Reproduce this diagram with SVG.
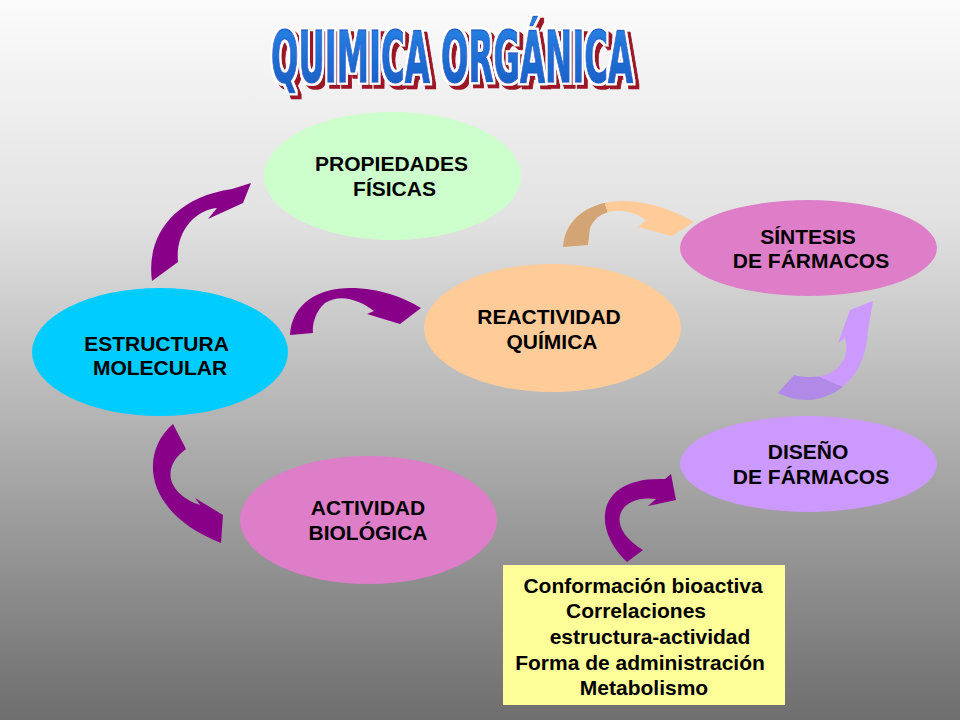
<svg xmlns="http://www.w3.org/2000/svg" width="960" height="720" viewBox="0 0 960 720">
<defs>
<linearGradient id="bg" x1="0" y1="0" x2="0" y2="1">
<stop offset="0" stop-color="#fbfbfb"/>
<stop offset="0.3" stop-color="#e2e2e2"/>
<stop offset="1" stop-color="#6e6e6e"/>
</linearGradient>
<linearGradient id="tan" gradientUnits="userSpaceOnUse" x1="600" y1="215" x2="615" y2="210">
<stop offset="0.5" stop-color="#d4a574"/>
<stop offset="0.5" stop-color="#ffcc99"/>
</linearGradient>
<linearGradient id="lav" gradientUnits="userSpaceOnUse" x1="830" y1="395" x2="840" y2="372">
<stop offset="0.5" stop-color="#b08ae6"/>
<stop offset="0.5" stop-color="#cc99ff"/>
</linearGradient>
<linearGradient id="blue" x1="0" y1="0" x2="0" y2="1">
<stop offset="0" stop-color="#2a86e8"/>
<stop offset="1" stop-color="#1558c0"/>
</linearGradient>
<filter id="tf" x="-5%" y="-20%" width="115%" height="150%">
<feMorphology in="SourceAlpha" operator="dilate" radius="2" result="d"/>
<feFlood flood-color="#ffffff" result="w"/>
<feComposite in="w" in2="d" operator="in" result="wo"/>
<feOffset in="d" dx="4" dy="4" result="so"/>
<feFlood flood-color="#9c1428" result="r"/>
<feComposite in="r" in2="so" operator="in" result="sh"/>
<feMerge><feMergeNode in="sh"/><feMergeNode in="wo"/><feMergeNode in="SourceGraphic"/></feMerge>
</filter>
</defs>
<style>
.lbl{font-family:"Liberation Sans",Arial,sans-serif;font-weight:bold;font-size:21px;fill:#000;text-anchor:middle}
.ttl{font-family:"Liberation Sans Narrow","DejaVu Sans Condensed",sans-serif;font-weight:bold;font-size:72px}
.arr{fill:#880088}
</style>
<rect width="960" height="720" fill="url(#bg)"/>

<g id="title">
<text class="ttl" x="271" y="82" textLength="362" lengthAdjust="spacingAndGlyphs" fill="url(#blue)" stroke="#1a62cc" stroke-width="1.5" filter="url(#tf)">QUIMICA ORGÁNICA</text>
</g>

<g id="connectors">
<path class="arr" d="M152,281 C146,240 170,198 232,189 L251,183 L243,203 L208,219 L217,208 C195,210 175,232 178,262 Z"/>
<path class="arr" d="M290,335 C292,302 320,288 350,288 C380,288 405,298 421,308 L400,324 L367,314 L374,311 C360,300 340,293 325,303 C315,312 312,325 313,333 Z"/>
<path fill="url(#tan)" d="M563,247 C565,215 595,200 625,201 C655,202 680,214 694,222 L672,236 L638,227 L646,220 C630,208 600,205 590,228 L588,245 Z"/>
<path class="arr" d="M173,424 C140,452 142,512 221,543 L223,515 L195,498 L200,505 C168,494 160,468 186,449 Z"/>
<path fill="url(#lav)" d="M778,393 C815,412 865,392 868,330 L873,301 L850,310 L838,343 L845,338 C852,362 832,384 794,375 Z"/>
<path class="arr" d="M627,562 C592,530 594,476 665,479 L671,474 L676,500 L648,506 L656,499 C620,494 602,525 643,550 Z"/>
</g>

<g id="propiedades">
<ellipse cx="392.5" cy="176" rx="128.5" ry="64" fill="#ccffcc"/>
<text class="lbl" x="391.5" y="171">PROPIEDADES</text>
<text class="lbl" x="394.5" y="196">FÍSICAS</text>
</g>
<g id="estructura">
<ellipse cx="160" cy="352" rx="128" ry="64" fill="#00ccff"/>
<text class="lbl" x="156.5" y="351">ESTRUCTURA</text>
<text class="lbl" x="160" y="375">MOLECULAR</text>
</g>
<g id="reactividad">
<ellipse cx="552.5" cy="328" rx="128.5" ry="64" fill="#ffcc99"/>
<text class="lbl" x="549" y="324">REACTIVIDAD</text>
<text class="lbl" x="552" y="349">QUÍMICA</text>
</g>
<g id="sintesis">
<ellipse cx="808.5" cy="248" rx="128.5" ry="48" fill="#de7ec8"/>
<text class="lbl" x="808" y="244">SÍNTESIS</text>
<text class="lbl" x="811" y="268">DE FÁRMACOS</text>
</g>
<g id="diseno">
<ellipse cx="808.5" cy="464" rx="128.5" ry="48" fill="#cc99ff"/>
<text class="lbl" x="808" y="459">DISEÑO</text>
<text class="lbl" x="811" y="484">DE FÁRMACOS</text>
</g>
<g id="actividad">
<ellipse cx="368.5" cy="520" rx="128.5" ry="64" fill="#de7ec8"/>
<text class="lbl" x="368" y="515">ACTIVIDAD</text>
<text class="lbl" x="368" y="540">BIOLÓGICA</text>
</g>
<g id="notas">
<rect x="503" y="565" width="282" height="140" fill="#ffff99"/>
<text class="lbl" x="643" y="593">Conformación bioactiva</text>
<text class="lbl" x="636" y="618">Correlaciones</text>
<text class="lbl" x="650" y="644">estructura-actividad</text>
<text class="lbl" x="640" y="670">Forma de administración</text>
<text class="lbl" x="644" y="695">Metabolismo</text>
</g>
</svg>
